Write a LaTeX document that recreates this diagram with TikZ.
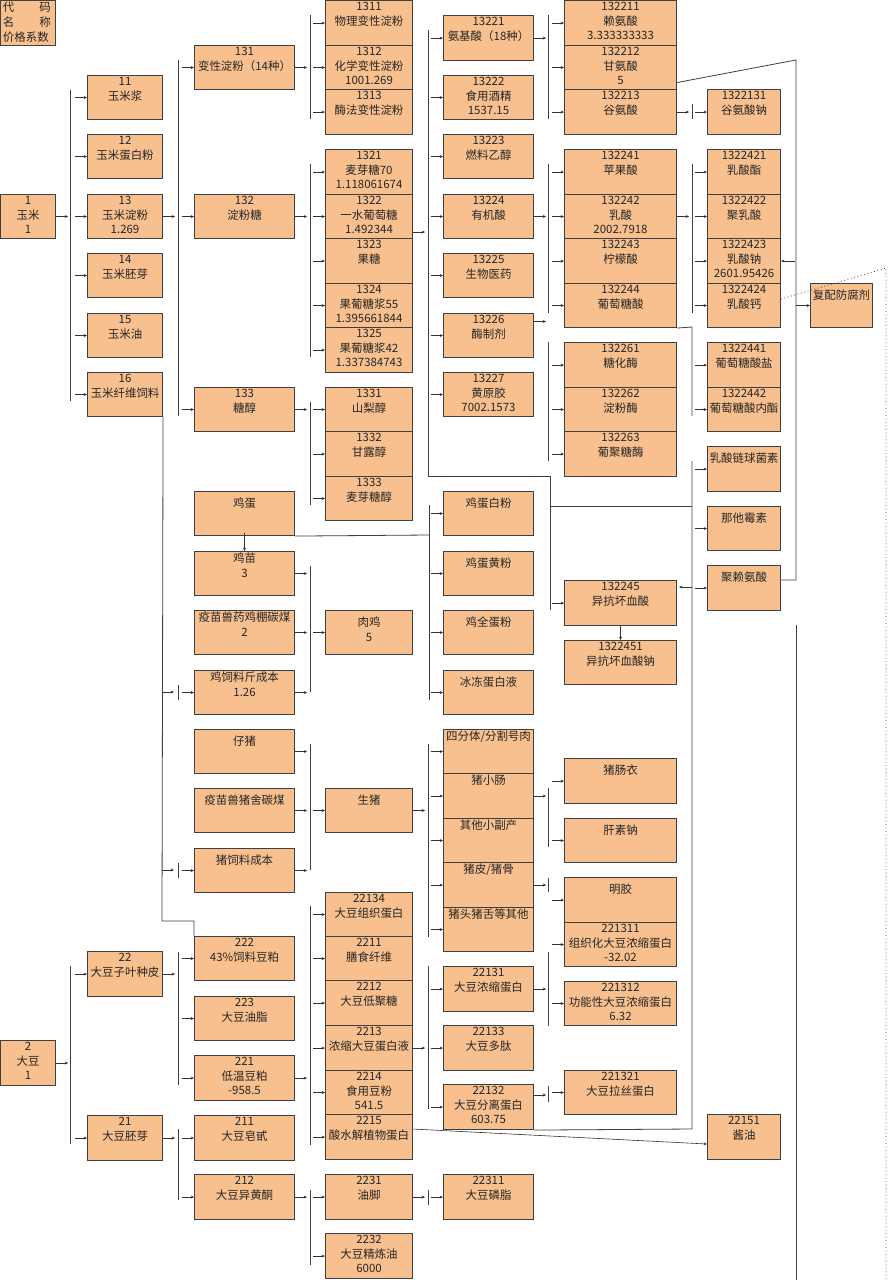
\documentclass[tikz,border=0pt]{standalone}
\usepackage{fontspec}
\setmainfont{Noto Sans CJK SC}
\usetikzlibrary{arrows.meta}
\definecolor{bxfill}{HTML}{F8C08E}
\definecolor{bxline}{HTML}{404040}
\tikzset{
 bxs/.style={draw=bxline,fill=bxfill,line width=0.8pt,inner sep=0pt},
 lbl/.style={inner sep=0pt,align=center,font=\fontsize{8.6}{11}\selectfont,text=black!85},
 arr/.style={-{Stealth[length=2.5pt,width=2.2pt]},line width=0.45pt,black!80},
 ln/.style={line width=0.6pt,black!75},
 dln/.style={line width=0.6pt,black!75,dotted}
}
\newcommand\bx[6]{\node[bxs,minimum width={(#4-#2)*0.75pt},minimum height={(#5-#3)*0.75pt},anchor=north west] (#1) at (#2,#3) {};
 \node[lbl,anchor=north] at ([yshift=-1.5pt]#1.north) {#6};}
\newcommand\ch[1]{\draw[arr] (#1.west) ++(-12,0) -- (#1.west);}
\newcommand\pa[1]{\draw[arr] (#1.east) -- ++(12,0);}
\begin{document}
\begin{tikzpicture}[x=0.75pt,y=-0.75pt]
\useasboundingbox (0,0) rectangle (888,1280);
\fill[white] (0,0) rectangle (888,1280);
% legend
\node[bxs,minimum width={55*0.75pt},minimum height={45*0.75pt},anchor=north west] (legend) at (0,0) {};
\node[lbl,anchor=north west,align=left] at ([xshift=2pt,yshift=-1.5pt]legend.north west) {\hbox to 36pt{代\hfill 码}\\\hbox to 36pt{名\hfill 称}\\价格系数};
% column A
\bx{n1}{0}{194}{55}{238}{1\\玉米\\1}
\bx{n2}{0}{1040}{55}{1085}{2\\大豆\\1}
% column B
\bx{n11}{87}{75}{162}{119}{11\\玉米浆}
\bx{n12}{87}{134}{162}{178}{12\\玉米蛋白粉}
\bx{n13}{87}{194}{162}{238}{13\\玉米淀粉\\1.269}
\bx{n14}{87}{253}{162}{297}{14\\玉米胚芽}
\bx{n15}{87}{313}{162}{357}{15\\玉米油}
\bx{n16}{87}{372}{162}{416}{16\\玉米纤维饲料}
\bx{n22}{87}{951}{162}{996}{22\\大豆子叶种皮}
\bx{n21}{87}{1115}{162}{1160}{21\\大豆胚芽}
% column C
\bx{n131}{194}{45}{294}{89}{131\\变性淀粉（14种）}
\bx{n132}{194}{194}{294}{238}{132\\淀粉糖}
\bx{n133}{194}{387}{294}{431}{133\\糖醇}
\bx{egg}{194}{491}{294}{535}{\\鸡蛋}
\bx{chick}{194}{551}{294}{595}{鸡苗\\3}
\bx{vacc}{194}{610}{294}{654}{疫苗兽药鸡棚碳煤\\2}
\bx{chickfeed}{194}{670}{294}{714}{鸡饲料斤成本\\1.26}
\bx{piglet}{194}{729}{294}{773}{\\仔猪}
\bx{pigvacc}{194}{788}{294}{832}{\\疫苗兽猪舍碳煤}
\bx{pigfeed}{194}{848}{294}{892}{\\猪饲料成本}
\bx{n222}{194}{936}{294}{980}{222\\43\%饲料豆粕}
\bx{n223}{194}{996}{294}{1040}{223\\大豆油脂}
\bx{n221}{194}{1055}{294}{1100}{221\\低温豆粕\\-958.5}
\bx{n211}{194}{1115}{294}{1160}{211\\大豆皂甙}
\bx{n212}{194}{1174}{294}{1219}{212\\大豆异黄酮}
% column D
\bx{n1311}{325}{0}{412}{45}{1311\\物理变性淀粉}
\bx{n1312}{325}{45}{412}{89}{1312\\化学变性淀粉\\1001.269}
\bx{n1313}{325}{89}{412}{134}{1313\\酶法变性淀粉}
\bx{n1321}{325}{149}{412}{194}{1321\\麦芽糖70\\1.118061674}
\bx{n1322}{325}{194}{412}{238}{1322\\一水葡萄糖\\1.492344}
\bx{n1323}{325}{238}{412}{283}{1323\\果糖}
\bx{n1324}{325}{283}{412}{327}{1324\\果葡糖浆55\\1.395661844}
\bx{n1325}{325}{327}{412}{372}{1325\\果葡糖浆42\\1.337384743}
\bx{n1331}{325}{387}{412}{431}{1331\\山梨醇}
\bx{n1332}{325}{431}{412}{476}{1332\\甘露醇}
\bx{n1333}{325}{476}{412}{520}{1333\\麦芽糖醇}
\bx{broiler}{325}{610}{412}{654}{\\肉鸡\\5}
\bx{pig}{325}{788}{412}{832}{\\生猪}
\bx{n22134}{325}{892}{412}{936}{22134\\大豆组织蛋白}
\bx{n2211}{325}{936}{412}{980}{2211\\膳食纤维}
\bx{n2212}{325}{980}{412}{1025}{2212\\大豆低聚糖}
\bx{n2213}{325}{1025}{412}{1070}{2213\\浓缩大豆蛋白液}
\bx{n2214}{325}{1070}{412}{1114}{2214\\食用豆粉\\541.5}
\bx{n2215}{325}{1114}{412}{1159}{2215\\酸水解植物蛋白}
\bx{n2231}{325}{1174}{412}{1219}{2231\\油脚}
\bx{n2232}{325}{1233}{412}{1278}{2232\\大豆精炼油\\6000}
% column E
\bx{n13221}{443}{15}{533}{60}{13221\\氨基酸（18种）}
\bx{n13222}{443}{75}{533}{119}{13222\\食用酒精\\1537.15}
\bx{n13223}{443}{134}{533}{178}{13223\\燃料乙醇}
\bx{n13224}{443}{194}{533}{238}{13224\\有机酸}
\bx{n13225}{443}{253}{533}{297}{13225\\生物医药}
\bx{n13226}{443}{313}{533}{357}{13226\\酶制剂}
\bx{n13227}{443}{372}{533}{416}{13227\\黄原胶\\7002.1573}
\bx{eggw}{443}{491}{533}{535}{\\鸡蛋白粉}
\bx{eggy}{443}{551}{533}{595}{\\鸡蛋黄粉}
\bx{eggwh}{443}{610}{533}{654}{\\鸡全蛋粉}
\bx{eggfz}{443}{670}{533}{714}{\\冰冻蛋白液}
\bx{pq}{443}{729}{533}{773}{四分体/分割号肉}
\bx{pint}{443}{773}{533}{818}{猪小肠}
\bx{poth}{443}{818}{533}{862}{其他小副产}
\bx{pskin}{443}{862}{533}{907}{猪皮/猪骨}
\bx{phead}{443}{907}{533}{951}{猪头猪舌等其他}
\bx{n22131}{443}{966}{533}{1011}{22131\\大豆浓缩蛋白}
\bx{n22133}{443}{1025}{533}{1070}{22133\\大豆多肽}
\bx{n22132}{443}{1084}{533}{1129}{22132\\大豆分离蛋白\\603.75}
\bx{n22311}{443}{1174}{533}{1219}{22311\\大豆磷脂}
% column F
\bx{n132211}{564}{0}{676}{45}{132211\\赖氨酸\\3.333333333}
\bx{n132212}{564}{45}{676}{89}{132212\\甘氨酸\\5}
\bx{n132213}{564}{89}{676}{134}{132213\\谷氨酸}
\bx{n132241}{564}{149}{676}{194}{132241\\苹果酸}
\bx{n132242}{564}{194}{676}{238}{132242\\乳酸\\2002.7918}
\bx{n132243}{564}{238}{676}{283}{132243\\柠檬酸}
\bx{n132244}{564}{283}{676}{327}{132244\\葡萄糖酸}
\bx{n132261}{564}{342}{676}{387}{132261\\糖化酶}
\bx{n132262}{564}{387}{676}{431}{132262\\淀粉酶}
\bx{n132263}{564}{431}{676}{476}{132263\\葡聚糖酶}
\bx{n132245}{564}{580}{676}{625}{132245\\异抗坏血酸}
\bx{n1322451}{564}{640}{676}{684}{1322451\\异抗坏血酸钠}
\bx{casing}{564}{758}{676}{803}{\\猪肠衣}
\bx{heparin}{564}{818}{676}{862}{\\肝素钠}
\bx{gelatin}{564}{877}{676}{922}{\\明胶}
\bx{n221311}{564}{922}{676}{966}{221311\\组织化大豆浓缩蛋白\\-32.02}
\bx{n221312}{564}{981}{676}{1025}{221312\\功能性大豆浓缩蛋白\\6.32}
\bx{n221321}{564}{1070}{676}{1114}{221321\\大豆拉丝蛋白}
% column G
\bx{n1322131}{707}{89}{780}{134}{1322131\\谷氨酸钠}
\bx{n1322421}{707}{149}{780}{194}{1322421\\乳酸酯}
\bx{n1322422}{707}{194}{780}{238}{1322422\\聚乳酸}
\bx{n1322423}{707}{238}{780}{283}{1322423\\乳酸钠\\2601.95426}
\bx{n1322424}{707}{283}{780}{327}{1322424\\乳酸钙}
\bx{n1322441}{707}{342}{780}{387}{1322441\\葡萄糖酸盐}
\bx{n1322442}{707}{387}{780}{431}{1322442\\葡萄糖酸内酯}
\bx{nisin}{707}{446}{780}{491}{\\乳酸链球菌素}
\bx{natam}{707}{506}{780}{550}{\\那他霉素}
\bx{polylys}{707}{565}{780}{610}{\\聚赖氨酸}
\bx{n22151}{707}{1114}{780}{1159}{22151\\酱油}
\bx{fupei}{810}{283}{872}{327}{\\复配防腐剂}
% ---------- connectors
% corn
\pa{n1} \draw[ln] (70,90)--(70,401);
\foreach \c in {n11,n12,n13,n14,n15,n16} {\ch{\c}}
\pa{n13} \draw[ln] (178,60)--(178,416);
\foreach \c in {n131,n132,n133} {\ch{\c}}
\pa{n131} \draw[ln] (310,15)--(310,119);
\foreach \c in {n1311,n1312,n1313} {\ch{\c}}
\pa{n132} \draw[ln] (310,164)--(310,357);
\foreach \c in {n1321,n1322,n1323,n1324,n1325} {\ch{\c}}
\pa{n133} \draw[ln] (310,402)--(310,505);
\foreach \c in {n1331,n1332,n1333} {\ch{\c}}
\draw[arr] (n1322.south east) ++(0,-7) -- ++(12,0);
\draw[ln] (428,30)--(428,476)--(550,476)--(550,610);
\foreach \c in {n13221,n13222,n13223,n13224,n13225,n13226,n13227} {\ch{\c}}
\ch{n132245}
\draw[ln] (550,506)--(692,506);
\draw[ln] (n22132.south east)--(692,1129)--(692,461);
\foreach \c in {nisin,natam,polylys} {\ch{\c}}
\draw[arr] (n132245.east) ++(15,-16) -- ++(-13,0);
\pa{n13221} \draw[ln] (548,15)--(548,119);
\foreach \c in {n132211,n132212,n132213} {\ch{\c}}
\pa{n13224} \draw[ln] (548,164)--(548,313);
\foreach \c in {n132241,n132242,n132243,n132244} {\ch{\c}}
\draw[arr] (n13226.east) ++(0,-14) -- ++(12,0);
\draw[ln] (548,342)--(548,461);
\foreach \c in {n132261,n132262,n132263} {\ch{\c}}
\pa{n132213} \draw[ln] (692,104)--(692,119); \ch{n1322131}
\pa{n132242} \draw[ln] (692,164)--(692,313);
\foreach \c in {n1322421,n1322422,n1322423,n1322424} {\ch{\c}}
\draw[ln] (n132244.south east)--(692,327)--(692,416);
\foreach \c in {n1322441,n1322442} {\ch{\c}}
\draw[arr] (n132245.south) -- (n1322451.north);
\draw[ln] (n132212.east) ++(0,15) -- (796,60) -- (796,580) -- (polylys.east |- 0,580);
\draw[arr] (n1322423.east) ++(14,0) -- (n1322423.east);
\draw[arr] (fupei.west) ++(-14,0) -- (fupei.west);
\draw[ln] (796,625)--(796,1280);
\draw[dln] (n1322423.south east) ++(0,15) -- (886,268) -- (886,1280);
% egg / chicken
\draw[ln] (egg.south east) -- (429,535);
\draw[ln] (429,505)--(429,700);
\foreach \c in {eggw,eggy,eggwh,eggfz} {\ch{\c}}
\draw[arr] (egg.south) ++(0,-3) -- (chick.north);
\foreach \c in {chick,vacc,chickfeed} {\pa{\c}}
\draw[ln] (310,566)--(310,692); \ch{broiler}
\draw[ln] (n16.south east) -- (162,921) -- (194,921) -- (n222.north west);
\draw[arr] (162,692) -- ++(12,0); \draw[ln] (178,685)--(178,700); \ch{chickfeed}
\draw[arr] (162,870) -- ++(12,0); \draw[ln] (178,863)--(178,878); \ch{pigfeed}
% pig
\foreach \c in {piglet,pigvacc,pigfeed} {\pa{\c}}
\draw[ln] (310,744)--(310,870); \ch{pig}
\pa{pig} \draw[ln] (428,744)--(428,937);
\foreach \c in {pq,pint,poth,pskin,phead} {\ch{\c}}
\pa{pint} \draw[ln] (548,788)--(548,847);
\foreach \c in {casing,heparin} {\ch{\c}}
\pa{pskin} \draw[ln] (548,878)--(548,892); \ch{gelatin}
% soybean
\pa{n2} \draw[ln] (70,966)--(70,1144);
\foreach \c in {n22,n21} {\ch{\c}}
\pa{n22} \draw[ln] (178,952)--(178,1085);
\foreach \c in {n222,n223,n221} {\ch{\c}}
\pa{n21} \draw[ln] (178,1129)--(178,1200);
\foreach \c in {n211,n212} {\ch{\c}}
\pa{n221} \draw[ln] (310,906)--(310,1145);
\foreach \c in {n22134,n2211,n2212,n2213,n2214,n2215} {\ch{\c}}
\pa{n2213} \draw[ln] (428,966)--(428,1109);
\foreach \c in {n22131,n22133,n22132} {\ch{\c}}
\pa{n22131} \draw[ln] (548,952)--(548,1026);
\foreach \c in {n221311,n221312} {\ch{\c}}
\draw[arr] (n22132.east) ++(0,-12) -- ++(12,0); \draw[ln] (548,1086)--(548,1102); \ch{n221321}
\draw[arr] (n2215.east) ++(0,-8) -- (n22151.west |- 0,1144);
\pa{n212} \draw[ln] (310,1190)--(310,1265);
\foreach \c in {n2231,n2232} {\ch{\c}}
\pa{n2231} \draw[ln] (428,1190)--(428,1205); \ch{n22311}
\end{tikzpicture}
\end{document}
